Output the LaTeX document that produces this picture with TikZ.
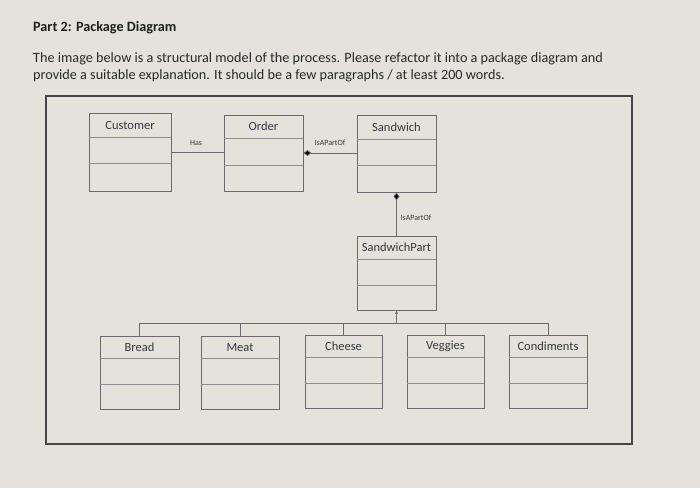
\documentclass[tikz,border=0pt]{standalone}
\usepackage{fontspec}
\setmainfont{Carlito}
\usetikzlibrary{arrows.meta}
\definecolor{bg}{RGB}{227,227,220}
\definecolor{ink}{RGB}{30,30,30}
\definecolor{bodyink}{RGB}{40,40,44}
\definecolor{boxline}{RGB}{105,105,112}
\definecolor{divline}{RGB}{140,140,148}
\definecolor{labink}{RGB}{55,55,65}
\definecolor{frameline}{RGB}{70,70,72}
\tikzset{
  cls/.style={draw=boxline, line width=0.9pt, inner sep=0pt},
  divider/.style={draw=divline, line width=0.7pt},
  clstext/.style={text=labink, font=\fontsize{12.5}{14}\selectfont, inner sep=0pt},
  assoc/.style={draw=boxline, line width=0.8pt},
  tiny/.style={text=labink, font=\fontsize{8}{9}\selectfont, inner sep=0pt},
  comp/.style={assoc, {Diamond[length=8pt,width=6pt,fill=black]}-},
}
\newcommand\umlcls[8]{%
  \node[cls, minimum width=#4pt, minimum height=#5pt] (#1) at (#2,#3) {};
  \draw[divider] (#1.north west) ++(0,#6) -- ++(#4,0);
  \draw[divider] (#1.north west) ++(0,#7) -- ++(#4,0);
  \node[clstext] (#1-t) at ([yshift=-#6pt/2]#1.north) {#8};
}
\begin{document}
\begin{tikzpicture}[x=1pt,y=-1pt]
\fill[bg] (0,0) rectangle (700,488);
\useasboundingbox (0,0) rectangle (700,488);
\node[anchor=west, text=ink, font=\fontsize{14.2}{17}\selectfont\bfseries, inner sep=0pt] (title) at (33,28) {Part 2: Package Diagram};
\node[anchor=west, text=bodyink, font=\fontsize{14.2}{17}\selectfont, inner sep=0pt] (line1) at (33,59) {The image below is a structural model of the process. Please refactor it into a package diagram and};
\node[anchor=west, text=bodyink, font=\fontsize{14.2}{17}\selectfont, inner sep=0pt] (line2) at (33,76) {provide a suitable explanation. It should be a few paragraphs / at least 200 words.};
\node[draw=frameline, line width=1.2pt, minimum width=586pt, minimum height=348pt, inner sep=0pt] (frame) at (339,270) {};
% classes: name, cx, cy, w, h, div1 (from top), div2, label
\umlcls{customer}{130}{152}{82}{78}{25}{51}{Customer}
\umlcls{order}{263.5}{153}{79}{76}{24}{51}{Order}
\umlcls{sandwich}{396.5}{153.5}{79}{77}{25}{51}{Sandwich}
\umlcls{sandwichpart}{396.5}{273.5}{79}{74}{23}{49}{SandwichPart}
\umlcls{bread}{139.5}{372.5}{79}{73}{23}{49}{Bread}
\umlcls{meat}{240}{372.5}{78}{73}{23}{49}{Meat}
\umlcls{cheese}{343.5}{371.5}{77}{73}{23}{49}{Cheese}
\umlcls{veggies}{445.5}{371.5}{77}{73}{23}{49}{Veggies}
\umlcls{condiments}{548}{371.5}{78}{73}{23}{49}{Condiments}
% associations
\draw[assoc] (customer.east) -- (customer.east -| order.west);
\node[tiny] (has) at (196,143) {Has};
\draw[comp] (order.east) -- (order.east -| sandwich.west);
\node[tiny] (isa1) at (330,143) {IsAPartOf};
\draw[comp] (sandwich.south) -- (sandwichpart.north);
\node[tiny] (isa2) at (416,218) {IsAPartOf};
% generalization tree
\coordinate (junction) at (396.5,323);
\draw[assoc, -{Stealth[length=3pt,width=3pt]}] (junction) -- (sandwichpart.south);
\draw[assoc] (junction) -| (bread.north);
\draw[assoc] (junction) -| (meat.north);
\draw[assoc] (junction) -| (cheese.north);
\draw[assoc] (junction) -| (veggies.north);
\draw[assoc] (junction) -| (condiments.north);
\end{tikzpicture}
\end{document}
